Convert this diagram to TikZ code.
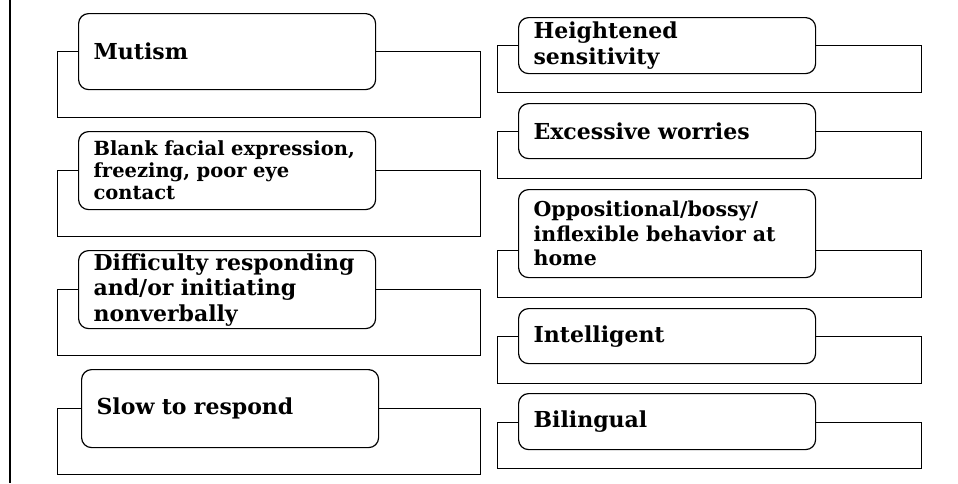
\documentclass[tikz,border=0pt]{standalone}
\usepackage{fontspec}
\setmainfont{DejaVu Serif}
\usetikzlibrary{positioning}

\begin{document}
\begin{tikzpicture}[
    x=1pt, y=-1pt,
    backbox/.style={rectangle, draw=black, line width=1.2pt, anchor=north west, inner sep=0pt},
    leftback/.style={backbox, minimum width=423pt, minimum height=66pt},
    rightback/.style={backbox, minimum width=424pt, minimum height=47pt},
    item/.style={rectangle, draw=black, fill=white, line width=1.2pt, rounded corners=10pt, anchor=north west, inner xsep=15pt, inner ysep=0pt, text width=267pt, minimum width=297pt, align=left, font=\bfseries\fontsize{22}{25.5}\selectfont},
    smallitem/.style={item, font=\bfseries\fontsize{19.5}{22}\selectfont},
    miditem/.style={item, font=\bfseries\fontsize{20.5}{24.5}\selectfont}
]
  \useasboundingbox (0,0) rectangle (958,483);

  % side rule
  \coordinate (railtop) at (10,0);
  \coordinate (railbot) at (10,483);
  \draw[line width=1.5pt] (railtop) -- (railbot);

  % left column, back frames
  \node[leftback] (lb1) at (57,51) {};
  \node[leftback] (lb2) at (57,170) {};
  \node[leftback] (lb3) at (57,289) {};
  \node[leftback] (lb4) at (57,408) {};

  % left column, items
  \node[item, minimum height=76pt] (mut) at (78,13) {Mutism};
  \node[smallitem, minimum height=78pt] (blank) at (78,131) {Blank facial expression,\\freezing, poor eye\\contact};
  \node[item, minimum height=78pt] (diff) at (78,250) {Difficulty responding\\and/or initiating\\nonverbally};
  \node[item, minimum height=78pt] (slow) at (81,369) {Slow to respond};

  % right column, back frames
  \node[rightback] (rb1) at (497,45) {};
  \node[rightback] (rb2) at (497,131) {};
  \node[rightback] (rb3) at (497,250) {};
  \node[rightback] (rb4) at (497,336) {};
  \node[rightback, minimum height=46pt] (rb5) at (497,422) {};

  % right column, items
  \node[item, minimum height=56pt] (heig) at (518,17) {Heightened\\sensitivity};
  \node[item, minimum height=55pt] (worr) at (518,103) {Excessive worries};
  \node[miditem, minimum height=88pt] (oppo) at (518,189) {Oppositional/bossy/\\inflexible behavior at\\home};
  \node[item, minimum height=55pt] (intel) at (518,308) {Intelligent};
  \node[item, minimum height=56pt] (biling) at (518,393) {Bilingual};
\end{tikzpicture}
\end{document}
